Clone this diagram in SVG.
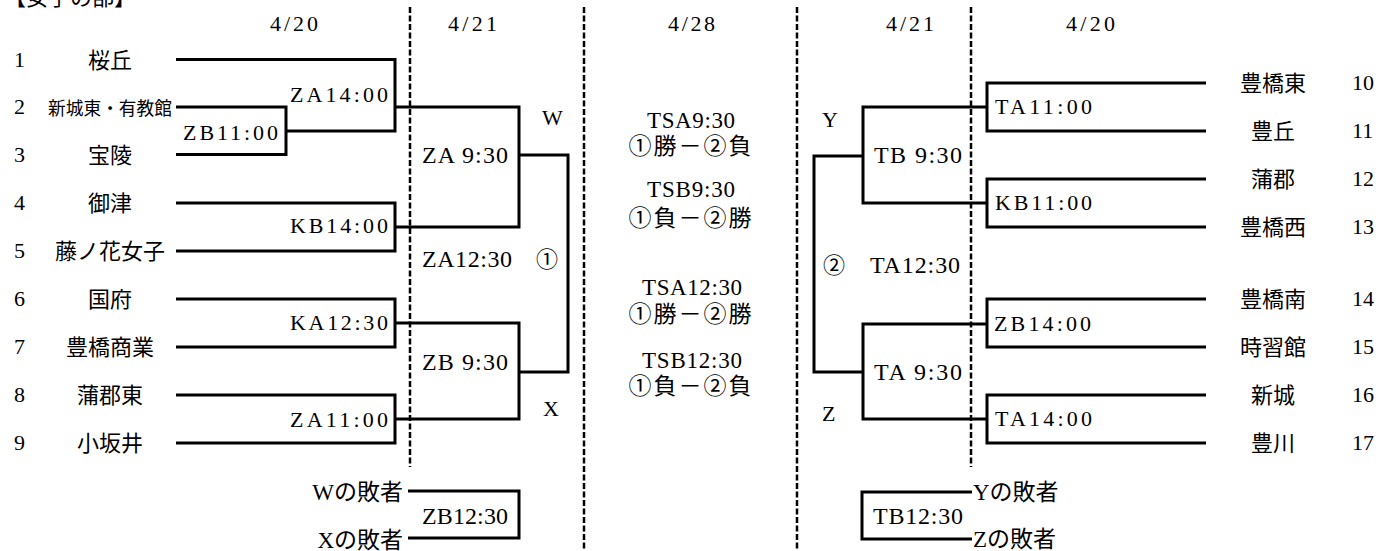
<svg xmlns="http://www.w3.org/2000/svg" width="1380" height="551" viewBox="0 0 1380 551">
<style>
text{fill:#000;font-family:"Liberation Serif","Times New Roman","Noto Sans CJK JP",serif;font-size:22px}
.jp{font-family:"Noto Sans CJK JP",sans-serif}
.sm{font-size:18px}
.big{font-size:24px}
.mid{font-size:23px}
.c{text-anchor:middle}
.e{text-anchor:end}
.ln{fill:none;stroke:#000;stroke-width:3;stroke-linejoin:miter;stroke-linecap:butt}
.dash{fill:none;stroke:#000;stroke-width:2.5;stroke-dasharray:6 2.5}
</style>
<rect width="1380" height="551" fill="#fff"/>
<text class="jp" x="4" y="5">【女子の部】</text>
<g id="dates">
<text x="270" y="31" textLength="48" lengthAdjust="spacing">4/20</text>
<text x="448" y="31" textLength="49" lengthAdjust="spacing">4/21</text>
<text x="668" y="31" textLength="47" lengthAdjust="spacing">4/28</text>
<text x="886" y="31" textLength="48" lengthAdjust="spacing">4/21</text>
<text x="1066" y="31" textLength="49" lengthAdjust="spacing">4/20</text>
</g>
<g id="dividers">
<line class="dash" x1="410" y1="7" x2="410" y2="467"/>
<line class="dash" x1="584" y1="7" x2="584" y2="551"/>
<line class="dash" x1="797" y1="7" x2="797" y2="551"/>
<line class="dash" x1="971" y1="7" x2="971" y2="467"/>
</g>
<g id="connectors">
<polyline class="ln" points="176,59.5 395,59.5 395,131 286,131"/>
<polyline class="ln" points="176,107 286,107 286,154.5 176,154.5"/>
<polyline class="ln" points="176,203 395,203 395,251 176,251"/>
<polyline class="ln" points="176,299 395,299 395,347 176,347"/>
<polyline class="ln" points="176,395 395,395 395,443 176,443"/>
<polyline class="ln" points="395,107 519,107 519,227 395,227"/>
<polyline class="ln" points="395,323 519,323 519,419 395,419"/>
<polyline class="ln" points="519,155 568,155 568,372 519,372"/>
<polyline class="ln" points="408,491 519,491 519,538 408,538"/>
<polyline class="ln" points="1206,83 987,83 987,131 1206,131"/>
<polyline class="ln" points="1206,179 987,179 987,227 1206,227"/>
<polyline class="ln" points="1206,299 987,299 987,347 1206,347"/>
<polyline class="ln" points="1206,395 987,395 987,443 1206,443"/>
<polyline class="ln" points="987,107 863,107 863,203 987,203"/>
<polyline class="ln" points="987,324 863,324 863,419 987,419"/>
<polyline class="ln" points="863,156 814,156 814,372 863,372"/>
<polyline class="ln" points="972,492 862,492 862,539 972,539"/>
</g>
<g id="team-1"><text x="14" y="67">1</text><text class="jp c" x="110" y="68">桜丘</text></g>
<g id="team-2"><text x="14" y="114">2</text><text class="jp c sm" x="110" y="115" textLength="124" lengthAdjust="spacingAndGlyphs">新城東・有教館</text></g>
<g id="team-3"><text x="14" y="162">3</text><text class="jp c" x="110" y="163">宝陵</text></g>
<g id="team-4"><text x="14" y="210">4</text><text class="jp c" x="110" y="211">御津</text></g>
<g id="team-5"><text x="14" y="258">5</text><text class="jp c" x="110" y="259">藤ノ花女子</text></g>
<g id="team-6"><text x="14" y="306">6</text><text class="jp c" x="110" y="307">国府</text></g>
<g id="team-7"><text x="14" y="354">7</text><text class="jp c" x="110" y="355">豊橋商業</text></g>
<g id="team-8"><text x="14" y="402">8</text><text class="jp c" x="110" y="403">蒲郡東</text></g>
<g id="team-9"><text x="14" y="450">9</text><text class="jp c" x="110" y="451">小坂井</text></g>
<g id="team-10"><text class="jp c" x="1273" y="91">豊橋東</text><text x="1352" y="90">10</text></g>
<g id="team-11"><text class="jp c" x="1273" y="139">豊丘</text><text x="1352" y="138">11</text></g>
<g id="team-12"><text class="jp c" x="1273" y="187">蒲郡</text><text x="1352" y="186">12</text></g>
<g id="team-13"><text class="jp c" x="1273" y="235">豊橋西</text><text x="1352" y="234">13</text></g>
<g id="team-14"><text class="jp c" x="1273" y="307">豊橋南</text><text x="1352" y="306">14</text></g>
<g id="team-15"><text class="jp c" x="1273" y="355">時習館</text><text x="1352" y="354">15</text></g>
<g id="team-16"><text class="jp c" x="1273" y="403">新城</text><text x="1352" y="402">16</text></g>
<g id="team-17"><text class="jp c" x="1273" y="451">豊川</text><text x="1352" y="450">17</text></g>
<g id="m-ZA1400"><text x="290" y="102" textLength="98" lengthAdjust="spacing">ZA14:00</text></g>
<g id="m-ZB1100"><text x="183" y="140" textLength="95" lengthAdjust="spacing">ZB11:00</text></g>
<g id="m-KB1400"><text x="290" y="233" textLength="98" lengthAdjust="spacing">KB14:00</text></g>
<g id="m-KA1230"><text x="290" y="330" textLength="98" lengthAdjust="spacing">KA12:30</text></g>
<g id="m-ZA1100"><text x="290" y="427" textLength="98" lengthAdjust="spacing">ZA11:00</text></g>
<g id="m-ZA930"><text class="big" x="422" y="163" textLength="86" lengthAdjust="spacing">ZA 9:30</text></g>
<g id="m-ZB930"><text class="big" x="422" y="370" textLength="86" lengthAdjust="spacing">ZB 9:30</text></g>
<g id="m-ZA1230"><text class="big" x="422" y="267" textLength="90" lengthAdjust="spacing">ZA12:30</text><text class="jp" x="536" y="267">①</text></g>
<g id="m-ZB1230"><text class="big" x="422" y="524" textLength="86" lengthAdjust="spacing">ZB12:30</text></g>
<g id="lbl-W"><text x="542" y="125">W</text></g>
<g id="lbl-X"><text x="543" y="416">X</text></g>
<g id="loser-W"><text class="mid e" x="403" y="500">Wの敗者</text></g>
<g id="loser-X"><text class="mid e" x="403" y="548">Xの敗者</text></g>
<g id="finals">
<text class="mid c" x="691" y="127.5" textLength="88" lengthAdjust="spacing">TSA9:30</text>
<text class="mid c" x="690" y="153.5" textLength="123" lengthAdjust="spacing">①勝－②負</text>
<text class="mid c" x="691" y="197" textLength="88" lengthAdjust="spacing">TSB9:30</text>
<text class="mid c" x="690" y="225.5" textLength="123" lengthAdjust="spacing">①負－②勝</text>
<text class="mid c" x="692" y="294.5" textLength="100" lengthAdjust="spacing">TSA12:30</text>
<text class="mid c" x="690" y="321.5" textLength="123" lengthAdjust="spacing">①勝－②勝</text>
<text class="mid c" x="692" y="367.5" textLength="100" lengthAdjust="spacing">TSB12:30</text>
<text class="mid c" x="690" y="393.5" textLength="123" lengthAdjust="spacing">①負－②負</text>
</g>
<g id="m-TA1100"><text x="995" y="114" textLength="97" lengthAdjust="spacing">TA11:00</text></g>
<g id="m-KB1100"><text x="995" y="210" textLength="97" lengthAdjust="spacing">KB11:00</text></g>
<g id="m-ZB1400"><text x="994" y="331" textLength="97" lengthAdjust="spacing">ZB14:00</text></g>
<g id="m-TA1400"><text x="995" y="426" textLength="97" lengthAdjust="spacing">TA14:00</text></g>
<g id="m-TB930"><text class="big" x="874" y="163" textLength="88" lengthAdjust="spacing">TB 9:30</text></g>
<g id="m-TA930"><text class="big" x="874" y="380" textLength="88" lengthAdjust="spacing">TA 9:30</text></g>
<g id="m-TA1230"><text class="jp" x="823" y="273">②</text><text class="big" x="870" y="273" textLength="90" lengthAdjust="spacing">TA12:30</text></g>
<g id="m-TB1230"><text class="big" x="873" y="524" textLength="90" lengthAdjust="spacing">TB12:30</text></g>
<g id="lbl-Y"><text x="822" y="127">Y</text></g>
<g id="lbl-Z"><text x="822" y="421">Z</text></g>
<g id="loser-Y"><text class="mid" x="973" y="500">Yの敗者</text></g>
<g id="loser-Z"><text class="mid" x="973" y="547">Zの敗者</text></g>
</svg>
